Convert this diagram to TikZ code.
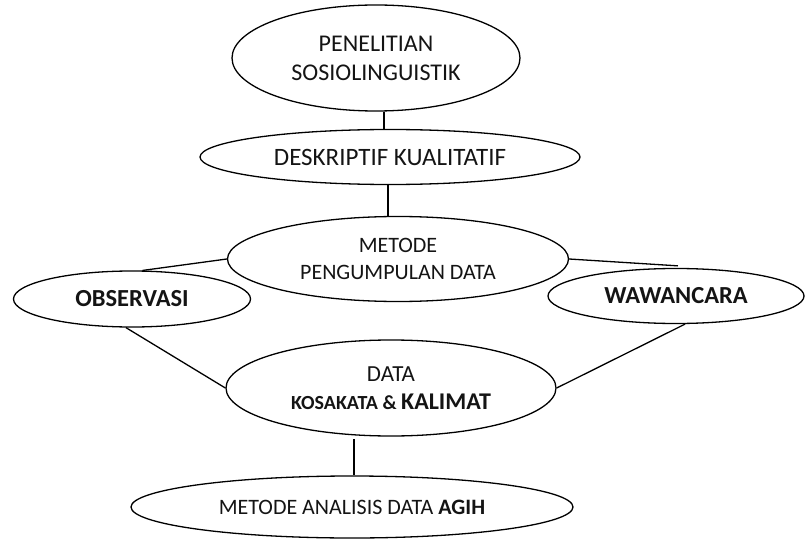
\documentclass[tikz,border=0pt]{standalone}
\usepackage{fontspec}
\setmainfont{Carlito}
\usetikzlibrary{shapes.geometric,calc}
\begin{document}
\begin{tikzpicture}[x=1pt,y=-1pt,
  oval/.style={draw=black,line width=1.3pt,ellipse,inner sep=0pt,align=center,text=black!92},
  conn/.style={draw=black,line width=1.3pt}]
\useasboundingbox (0,0) rectangle (805,540);
\node[oval,font=\fontsize{24}{29}\selectfont,minimum width=288,minimum height=106] (top) at (376,58) {PENELITIAN\\SOSIOLINGUISTIK};
\node[oval,font=\fontsize{25}{29}\selectfont,minimum width=380,minimum height=55] (desk) at (390,157) {DESKRIPTIF KUALITATIF};
\node[oval,font=\fontsize{22}{27}\selectfont,minimum width=341,minimum height=85] (met) at (398,259) {METODE\\PENGUMPULAN DATA};
\node[oval,font=\fontsize{24.5}{28}\selectfont\bfseries,minimum width=237,minimum height=56] (obs) at (132,299) {OBSERVASI};
\node[oval,font=\fontsize{24.5}{28}\selectfont\bfseries,minimum width=256,minimum height=55] (waw) at (676,296) {WAWANCARA};
\node[oval,font=\fontsize{23}{28}\selectfont,minimum width=330,minimum height=96] (data) at (391,388) {DATA\\{\bfseries\fontsize{20}{28}\selectfont KOSAKATA \& }{\bfseries\fontsize{24}{28}\selectfont KALIMAT}};
\node[oval,font=\fontsize{22}{28}\selectfont,minimum width=442,minimum height=62] (agih) at (352,507) {METODE ANALISIS DATA \textbf{AGIH}};
\draw[conn] ([xshift=8pt]top.south) -- ([xshift=8pt]top.south |- desk.north);
\draw[conn] ([xshift=-2pt]desk.south) -- ([xshift=-2pt]desk.south |- met.north);
\draw[conn] (obs.70) -- (met.west);
\draw[conn] (met.east) -- ([yshift=2pt]waw.86);
\draw[conn] (obs.-102) -- (data.west);
\draw[conn] (waw.-72) -- (data.east);
\draw[conn] ([yshift=-4pt]data.-128) -- (data.-128 |- agih.north);
\end{tikzpicture}
\end{document}
